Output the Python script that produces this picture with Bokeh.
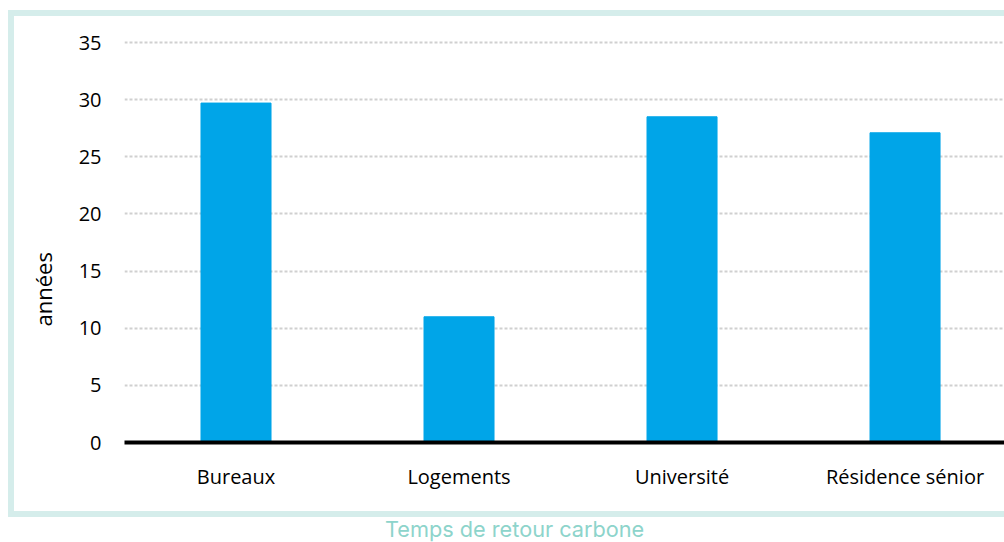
from bokeh.plotting import figure
from bokeh.models import Range1d, FixedTicker, Title, Div, InlineStyleSheet
from bokeh.layouts import column
from bokeh.embed import file_html
from bokeh.resources import INLINE
import numpy as np

categories = ["Bureaux", "Logements", "Université", "Résidence sénior"]
values = [29.7, 11.0, 28.5, 27.1]
y_ticks = [0, 5, 10, 15, 20, 25, 30, 35]
y_label = "années"
chart_title = "Temps de retour carbone"

pos = np.arange(len(categories)) + 0.5

frame_css = InlineStyleSheet(css="""
:host { position: relative; }
:host::after {
  content: "";
  position: absolute;
  left: 8px;
  top: 10px;
  width: calc(100% - 8px);
  height: 507px;
  box-sizing: border-box;
  border: 6px solid #D5EDEB;
  border-right: none;
  pointer-events: none;
}
""")

p = figure(width=1004, height=520, output_backend="svg", toolbar_location=None,
           x_range=Range1d(0, 3.946), y_range=Range1d(0, 35.35),
           min_border_left=124, min_border_right=0, min_border_top=38, min_border_bottom=78,
           stylesheets=[frame_css])

p.vbar(x=pos, top=values, width=0.314, color="#00A5E8")

p.xgrid.visible = False
p.ygrid.ticker = FixedTicker(ticks=y_ticks)
p.ygrid.grid_line_color = "#D0D0D0"
p.ygrid.grid_line_width = 2
p.ygrid.grid_line_dash = "3 2"

p.outline_line_color = None

ya = p.yaxis[0]
ya.ticker = FixedTicker(ticks=y_ticks)
ya.axis_line_color = None
ya.major_tick_line_color = None
ya.minor_tick_line_color = None
ya.major_label_standoff = 17
ya.major_label_text_font = "Open Sans"
ya.major_label_text_font_size = "20px"
ya.major_label_text_color = "#000000"

xa = p.xaxis[0]
xa.ticker = FixedTicker(ticks=list(pos))
xa.major_label_overrides = {float(x): c for x, c in zip(pos, categories)}
xa.axis_line_color = "#000000"
xa.axis_line_width = 4
xa.major_tick_line_color = None
xa.minor_tick_line_color = None
xa.major_label_standoff = 14
xa.major_label_text_font = "Open Sans"
xa.major_label_text_font_size = "20px"
xa.major_label_text_color = "#000000"

yt = Title(text=y_label, align="left", offset=116,
           text_font="Open Sans", text_font_size="22px", text_font_style="normal",
           text_color="#000000", standoff=36)
p.add_layout(yt, "left")

p.background_fill_color = "white"
p.border_fill_color = "white"

title_div = Div(text=chart_title, width=1004, height=22, margin=0,
                styles={"font-family": "Inter", "font-size": "21.7px",
                        "color": "#8DD4CB", "line-height": "18px",
                        "padding-left": "385px", "white-space": "nowrap",
                        "box-sizing": "border-box"})

layout = column(p, title_div, spacing=0)

open("out.html", "w").write(file_html(layout, INLINE))
